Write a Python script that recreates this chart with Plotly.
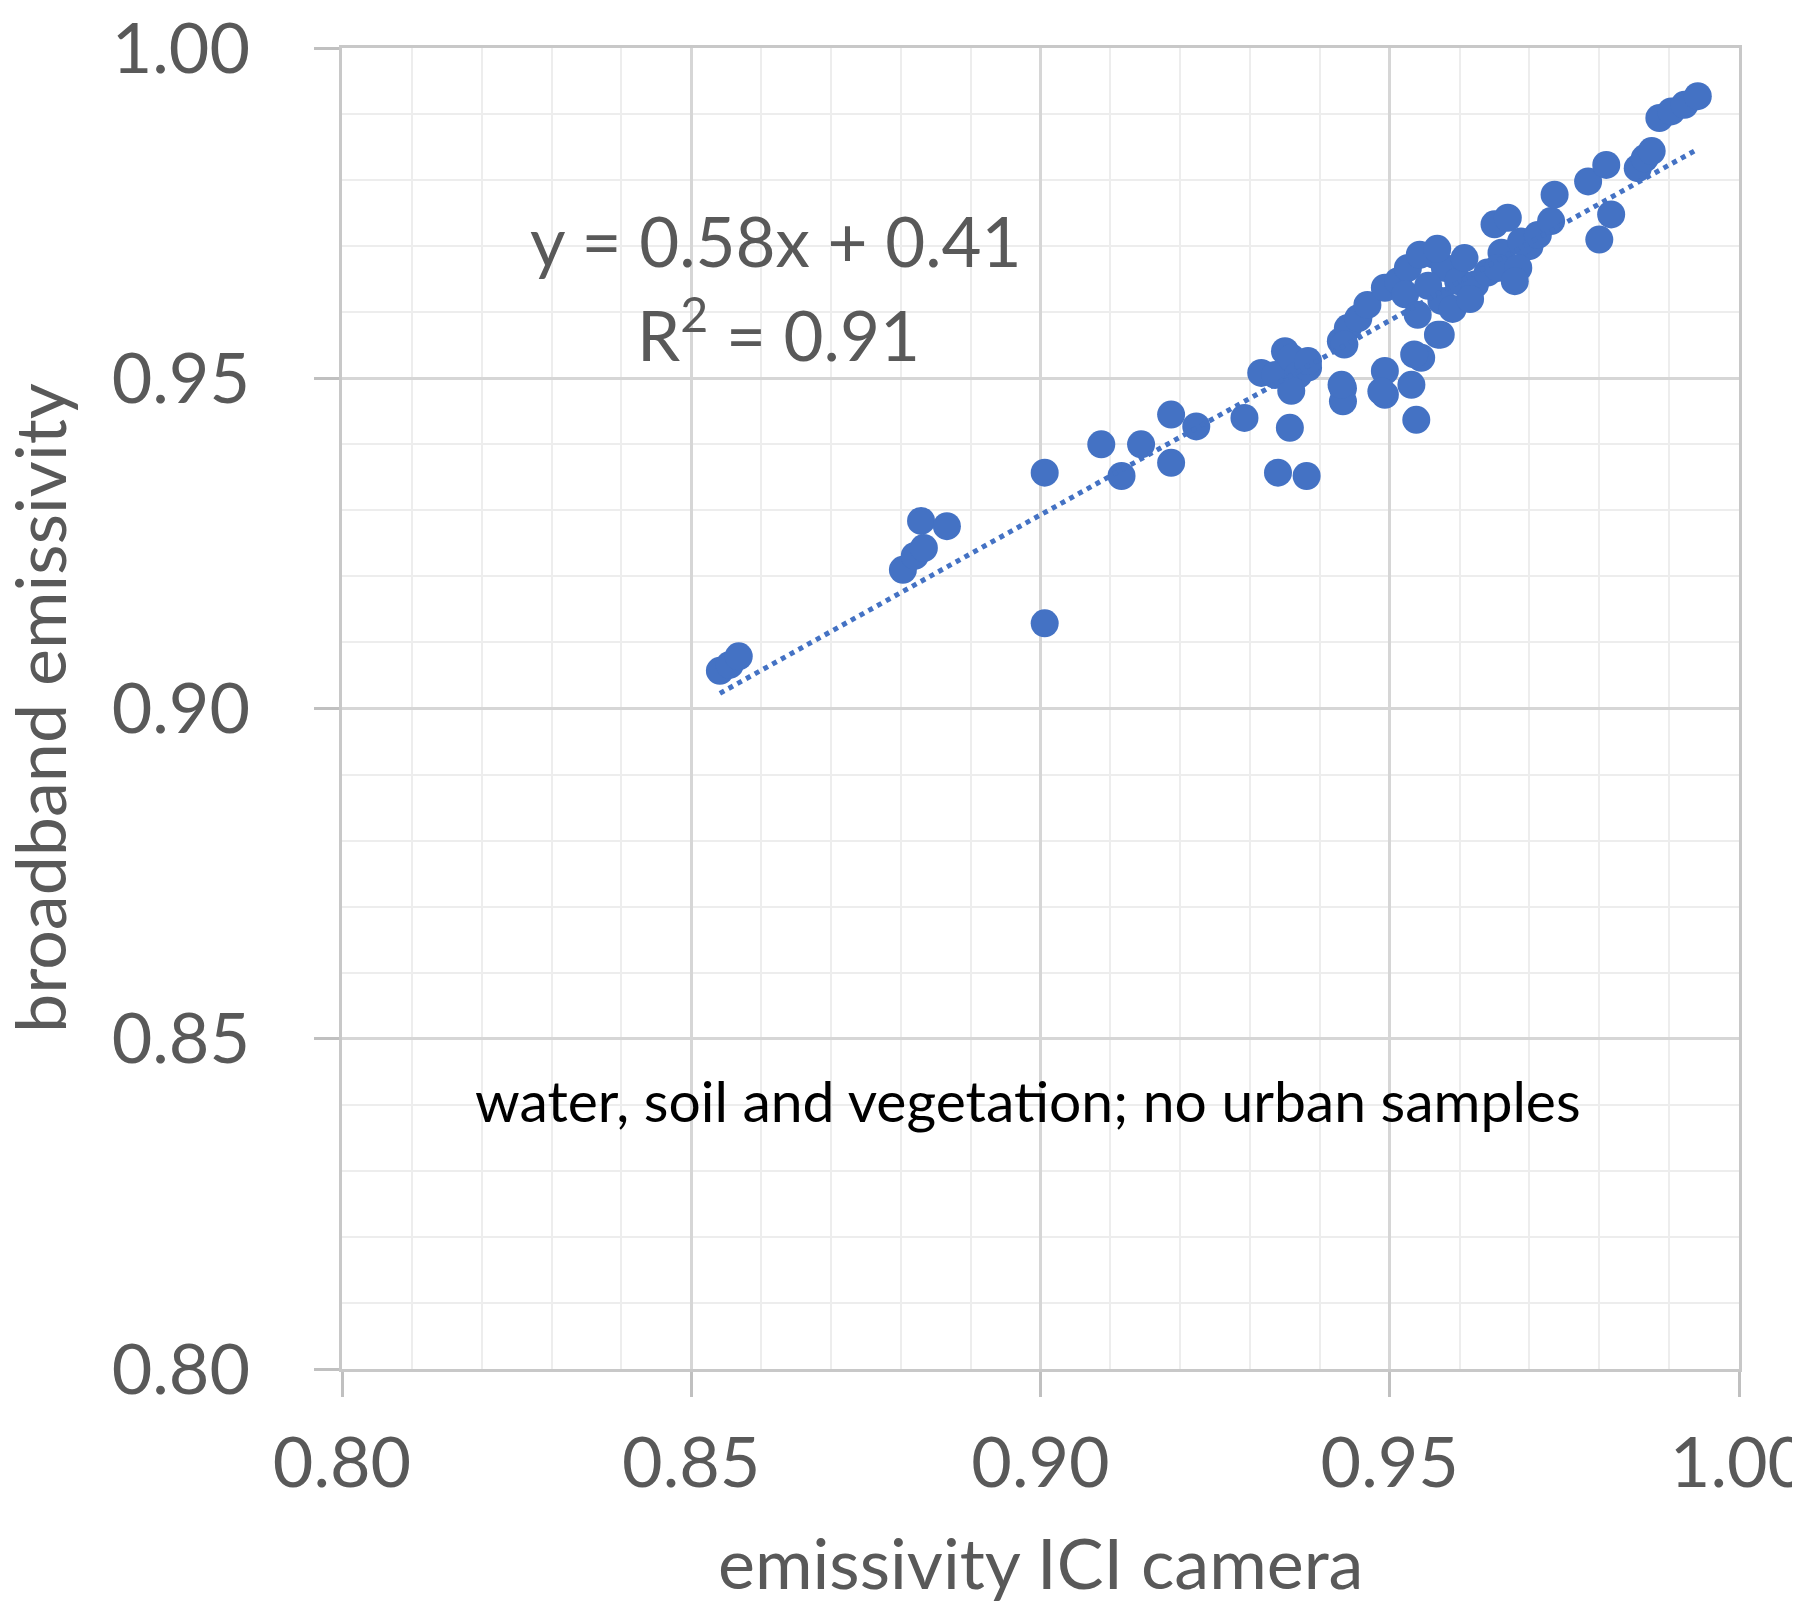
import plotly.graph_objects as go

# emissivity from the ICI camera (x) and broadband emissivity (y)
ici_emissivity = [
    0.8541, 0.8555, 0.8568,
    0.8803, 0.8820, 0.8833, 0.8829, 0.8866,
    0.9006, 0.9006,
    0.9087, 0.9116, 0.9144,
    0.9187, 0.9187, 0.9223, 0.9292, 0.9316,
    0.9336, 0.9350, 0.9359, 0.9369, 0.9359, 0.9383, 0.9383,
    0.9357, 0.9340, 0.9381,
    0.9433, 0.9433, 0.9431,
    0.9430, 0.9440, 0.9455, 0.9435,
    0.9468, 0.9493, 0.9512, 0.9526, 0.9522,
    0.9493, 0.9493, 0.9488, 0.9531, 0.9545, 0.9535,
    0.9538,
    0.9540, 0.9569, 0.9573, 0.9574,
    0.9564, 0.9579, 0.9598, 0.9607, 0.9622,
    0.9555, 0.9590, 0.9615, 0.9640, 0.9660, 0.9700, 0.9543, 0.9568,
    0.9650, 0.9669, 0.9688, 0.9655, 0.9684, 0.9679,
    0.9712, 0.9731, 0.9736,
    0.9784, 0.9810, 0.9817, 0.9800,
    0.9855, 0.9865, 0.9875,
    0.9886, 0.9903, 0.9922, 0.9941,
]
broadband_emissivity = [
    0.9057, 0.9066, 0.9079,
    0.9210, 0.9231, 0.9243, 0.9284, 0.9276,
    0.9357, 0.9129,
    0.9400, 0.9352, 0.9400,
    0.9445, 0.9372, 0.9427, 0.9440, 0.9508,
    0.9505, 0.9541, 0.9531, 0.9505, 0.9481, 0.9516, 0.9526,
    0.9425, 0.9357, 0.9352,
    0.9485, 0.9465, 0.9490,
    0.9556, 0.9576, 0.9591, 0.9551,
    0.9611, 0.9637, 0.9647, 0.9667, 0.9627,
    0.9511, 0.9475, 0.9480, 0.9490, 0.9531, 0.9536,
    0.9437,
    0.9596, 0.9566, 0.9566, 0.9617,
    0.9687, 0.9667, 0.9647, 0.9682, 0.9642,
    0.9640, 0.9605, 0.9620, 0.9660, 0.9690, 0.9700, 0.9687, 0.9696,
    0.9733, 0.9743, 0.9707, 0.9667, 0.9667, 0.9647,
    0.9717, 0.9738, 0.9778,
    0.9798, 0.9823, 0.9748, 0.9710,
    0.9818, 0.9833, 0.9844,
    0.9894, 0.9904, 0.9914, 0.9927,
]

# linear trendline end points as drawn
trend_x = [0.8541, 0.9941]
trend_y = [0.9023, 0.9847]

axis_ticks = [0.80, 0.85, 0.90, 0.95, 1.00]

blue = "#4472C4"
grey_text = "#595959"

fig = go.Figure()
fig.add_trace(go.Scatter(
    x=ici_emissivity, y=broadband_emissivity, mode="markers",
    marker=dict(size=28, color=blue, line=dict(width=0)),
    showlegend=False,
))
fig.add_trace(go.Scatter(
    x=trend_x, y=trend_y, mode="lines",
    line=dict(color=blue, width=5, dash="dot"),
    showlegend=False,
))

axis_style = dict(
    range=[0.80, 1.00],
    tickvals=axis_ticks,
    tickformat=".2f",
    ticks="outside",
    ticklen=25,
    tickwidth=3,
    tickcolor="#c0c0c0",
    showline=True,
    mirror=True,
    linecolor="#c8c8c8",
    linewidth=3,
    showgrid=True,
    gridcolor="#d6d6d6",
    gridwidth=3,
    zeroline=False,
    automargin=False,
    ticklabeloverflow="allow",
    minor=dict(dtick=0.01, tick0=0.80, showgrid=True, gridcolor="#ededed", gridwidth=2, ticks=""),
    tickfont=dict(size=70, color=grey_text),
)

fig.update_xaxes(**axis_style, ticklabelstandoff=6)
fig.update_yaxes(**axis_style, ticklabelstandoff=50)

# axis titles placed as paper annotations (standoff is ignored without automargin)
fig.add_annotation(x=0.5, y=-0.1458, xref="paper", yref="paper", text="emissivity ICI camera",
                   showarrow=False, font=dict(size=70, color=grey_text),
                   xanchor="center", yanchor="middle")
fig.add_annotation(x=-0.2172, y=0.5, xref="paper", yref="paper", text="broadband emissivity",
                   showarrow=False, textangle=-90, font=dict(size=70, color=grey_text),
                   xanchor="center", yanchor="middle")

fig.add_annotation(x=0.8621, y=0.9709, text="y = 0.58x + 0.41", showarrow=False,
                   font=dict(size=69, color=grey_text), xanchor="center", yanchor="middle")
fig.add_annotation(x=0.8625, y=0.9573, text="R<sup>2</sup> = 0.91", showarrow=False,
                   font=dict(size=69, color=grey_text), xanchor="center", yanchor="middle")
fig.add_annotation(x=0.8982, y=0.8407, text="water, soil and vegetation; no urban samples",
                   showarrow=False, font=dict(size=57, color="#000000"),
                   xanchor="center", yanchor="middle")

fig.update_layout(
    width=1800, height=1607,
    margin=dict(l=334, r=69, t=40, b=246),
    plot_bgcolor="white", paper_bgcolor="white",
    font=dict(family="Lato", color=grey_text),
)

fig.write_html("out.html")
